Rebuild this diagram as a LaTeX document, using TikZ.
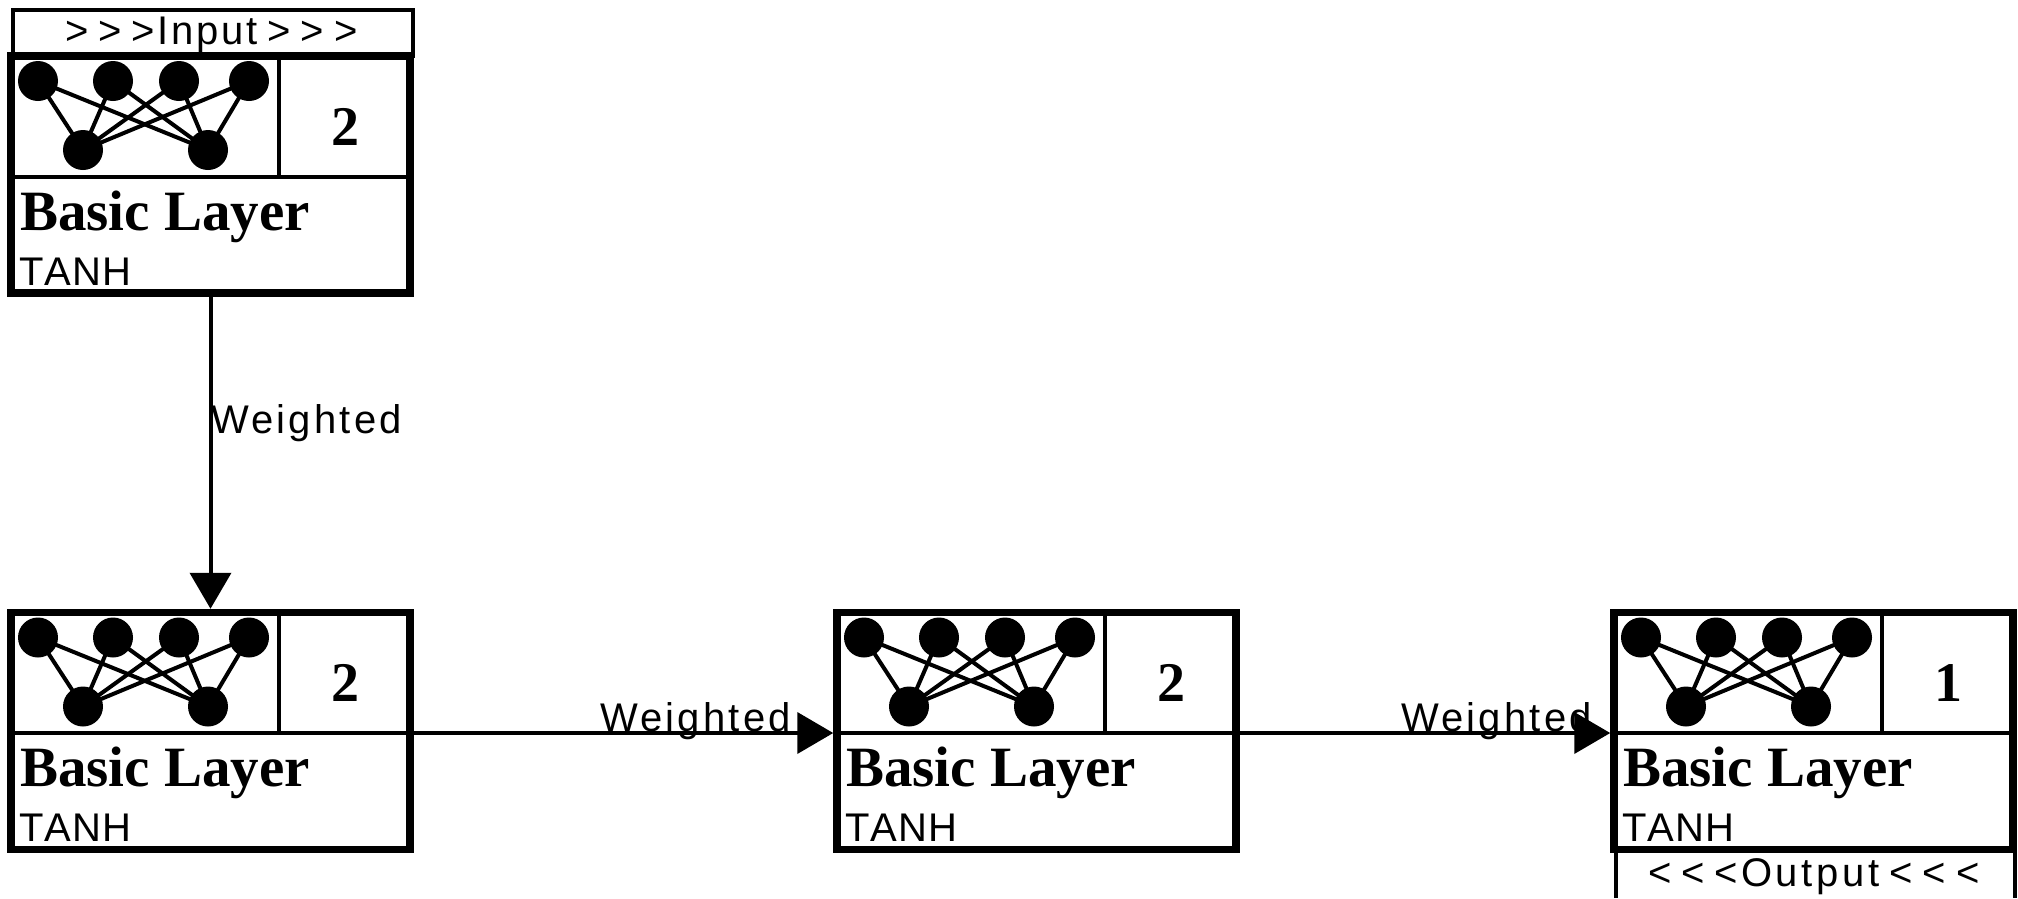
\documentclass[tikz,border=0pt]{standalone}
\usepackage{fontspec}
\usetikzlibrary{arrows.meta}
\setmainfont{Liberation Sans}
\newfontfamily\fnfont[Kerning=Off,LetterSpace=3]{Liberation Sans}
\newfontfamily\lblfont[LetterSpace=8]{Liberation Sans}
\newfontfamily\inpfont[LetterSpace=7]{Liberation Sans}
\newfontfamily\outfont[LetterSpace=9]{Liberation Sans}
\newfontfamily\gtfont[LetterSpace=25]{Liberation Sans}
\newfontfamily\serifbold[BoldFont={Liberation Serif Bold}]{Liberation Serif}
\tikzset{
  layerbox/.style={draw=black,line width=7.5pt,minimum width=399pt,minimum height=237pt,inner sep=0pt,fill=white},
  neuron/.style={circle,fill=black,inner sep=0pt,minimum size=40pt},
  syn/.style={draw=black,line width=4pt},
  rule/.style={draw=black,line width=4pt},
  txt/.style={anchor=base west,inner sep=0pt,text=black},
  titlefont/.style={font=\fontsize{57}{60}\selectfont\serifbold\bfseries},
  numfont/.style={font=\fontsize{56}{60}\selectfont\serifbold\bfseries},
  sansfont/.style={font=\fontsize{40}{44}\selectfont\fnfont},
  wlabel/.style={txt,font=\fontsize{40}{44}\selectfont\lblfont},
  conn/.style={draw=black,line width=4pt,-{Triangle[length=36pt,width=41pt]}},
  iobox/.style={draw=black,line width=4pt},
}
\newcommand{\layerunit}[4]{%
  \begin{scope}[shift={(#2,#3)}]
    \node[layerbox] (#1) at (199.5,118.5) {};
    \coordinate (#1-l) at (-3.75,120.5);
    \coordinate (#1-r) at (402.75,120.5);
    \coordinate (#1-rule) at (0,120.5);
    \coordinate (#1-ruleend) at (399,120.5);
    \coordinate (#1-vtop) at (268,0);
    \coordinate (#1-vbot) at (268,120.5);
    \draw[rule] (#1-rule) -- (#1-ruleend);
    \draw[rule] (#1-vtop) -- (#1-vbot);
    \node[neuron] (#1-t1) at (27,25) {};
    \node[neuron] (#1-t2) at (102,25) {};
    \node[neuron] (#1-t3) at (168,25) {};
    \node[neuron] (#1-t4) at (238,25) {};
    \node[neuron] (#1-b1) at (72,94) {};
    \node[neuron] (#1-b2) at (197,94) {};
    \foreach \t in {1,2,3,4}{\foreach \b in {1,2}{\draw[syn] (#1-t\t.center) -- (#1-b\b.center);}}
    \node[txt,numfont] (#1-num) at (320,89) {#4};
    \node[txt,titlefont] (#1-title) at (9,174) {Basic Layer};
    \node[txt,sansfont] (#1-fn) at (8,229) {TANH};
  \end{scope}}
\begin{document}
\begin{tikzpicture}[x=1pt,y=-1pt]
\useasboundingbox (0,0) rectangle (2018,898);
\fill[white] (0,0) rectangle (2018,898);
% input tab
\node[iobox,minimum width=399.5pt,minimum height=46.5pt,inner sep=0pt] (inbox) at (212.75,32.75) {};
\node[txt,font=\fontsize{40}{44}\selectfont] (intext) at (65,44) {{\gtfont >{}>{}>}\kern2pt{\inpfont Input}\kern10pt{\gtfont >{}>{}>}};
% output tab
\coordinate (outnw) at (1616,850);
\coordinate (outne) at (2014.5,850);
\coordinate (outsw) at (1616,898);
\coordinate (outse) at (2014.5,898);
\draw[iobox] (outsw) -- (outnw) -- (outne) -- (outse);
\node[txt,font=\fontsize{40}{44}\selectfont] (outtext) at (1648,886) {{\gtfont <{}<{}<}\kern3pt{\outfont Output}\kern10pt{\gtfont <{}<{}<}};
% layers
\layerunit{A}{11}{56}{2}
\layerunit{B}{11}{612.5}{2}
\layerunit{C}{837}{612.5}{2}
\layerunit{D}{1614}{612.5}{1}
% connectors
\draw[conn] (A.south) -- (B.north);
\draw[conn] (B-r) -- (C-l);
\draw[conn] (C-r) -- (D-l);
\node[wlabel] (w1) at (211,433) {Weighted};
\node[wlabel] (w2) at (600,731) {Weighted};
\node[wlabel] (w3) at (1401,731) {Weighted};
\end{tikzpicture}
\end{document}
